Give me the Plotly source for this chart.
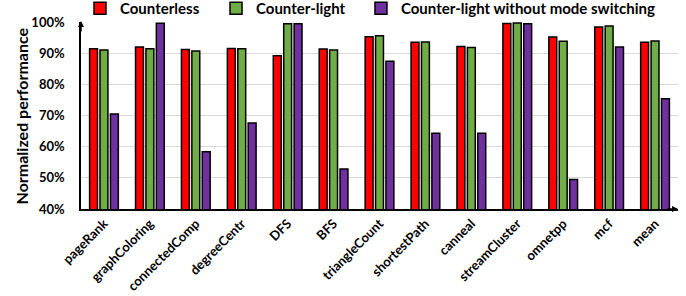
import plotly.graph_objects as go

categories = ["pageRank", "graphColoring", "connectedComp", "degreeCentr", "DFS", "BFS",
              "triangleCount", "shortestPath", "canneal", "streamCluster", "omnetpp", "mcf", "mean"]
counterless = [91.4, 92.0, 91.2, 91.5, 89.2, 91.3, 95.3, 93.5, 92.1, 99.5, 95.2, 98.4, 93.5]
counter_light = [91.0, 91.4, 90.7, 91.4, 99.4, 91.0, 95.6, 93.6, 91.8, 99.7, 93.8, 98.7, 93.9]
no_mode_switch = [70.5, 99.6, 58.4, 67.6, 99.4, 52.8, 87.4, 64.3, 64.3, 99.4, 49.5, 92.0, 75.4]
y_title = "Normalized performance"

series = [
    ("Counterless", counterless, "#ff0000", "legend", 0.1166),
    ("Counter-light", counter_light, "#70ad47", "legend2", 0.3149),
    ("Counter-light without mode switching", no_mode_switch, "#7030a0", "legend3", 0.5262),
]

font_family = "Lato, 'Open Sans', sans-serif"
fig = go.Figure()
legend_layout = {}
for name, vals, color, leg, lx in series:
    fig.add_trace(go.Bar(
        x=categories, y=vals, name=name, legend=leg,
        marker=dict(color=color, line=dict(color="black", width=1.5)),
        base=0,
    ))
    legend_layout[leg] = dict(
        orientation="h", xref="container", x=lx, xanchor="left",
        yref="container", y=0.971, yanchor="middle",
        font=dict(size=15, family=font_family, weight="bold"),
        itemwidth=30, bgcolor="rgba(0,0,0,0)",
    )

fig.update_layout(
    width=686, height=296,
    margin=dict(l=81, r=8, t=22, b=87, autoexpand=False),
    plot_bgcolor="white", paper_bgcolor="white",
    barmode="group", bargap=0.32, bargroupgap=0.24,
    font=dict(family=font_family, color="black"),
    showlegend=True,
    **legend_layout,
)
fig.update_yaxes(
    range=[40, 100], tickvals=[40, 50, 60, 70, 80, 90, 100],
    ticktext=["40%", "50%", "60%", "70%", "80%", "90%", "100%"],
    showgrid=True, gridcolor="#d9d9d9", gridwidth=1,
    showline=True, linecolor="black", linewidth=1.5,
    ticks="", ticklabelstandoff=12,
    tickfont=dict(size=13, family=font_family, weight="bold"),
    zeroline=False,
)
fig.update_xaxes(
    showline=True, linecolor="black", linewidth=2, ticks="",
    tickangle=-45, tickfont=dict(size=13, family=font_family, weight="bold"),
    showgrid=False,
)
# y-axis title as rotated text
fig.add_annotation(xref="paper", yref="paper", x=-0.099, y=0.5, xanchor="center", yanchor="middle",
                   text=y_title, textangle=-90, showarrow=False,
                   font=dict(size=16, family=font_family, weight="bold", color="black"))
# axis arrows
fig.add_annotation(xref="paper", yref="paper", x=0, y=1.005, ax=0, ay=12, showarrow=True,
                   arrowhead=2, arrowsize=0.8, arrowwidth=1.5, arrowcolor="black", text="")
fig.add_annotation(xref="paper", yref="paper", x=1.0, y=0, ax=-12, ay=0, showarrow=True,
                   arrowhead=2, arrowsize=0.8, arrowwidth=1.5, arrowcolor="black", text="")

fig.write_html("out.html", config={"displayModeBar": False},
               post_script="document.body.style.margin='0';")
